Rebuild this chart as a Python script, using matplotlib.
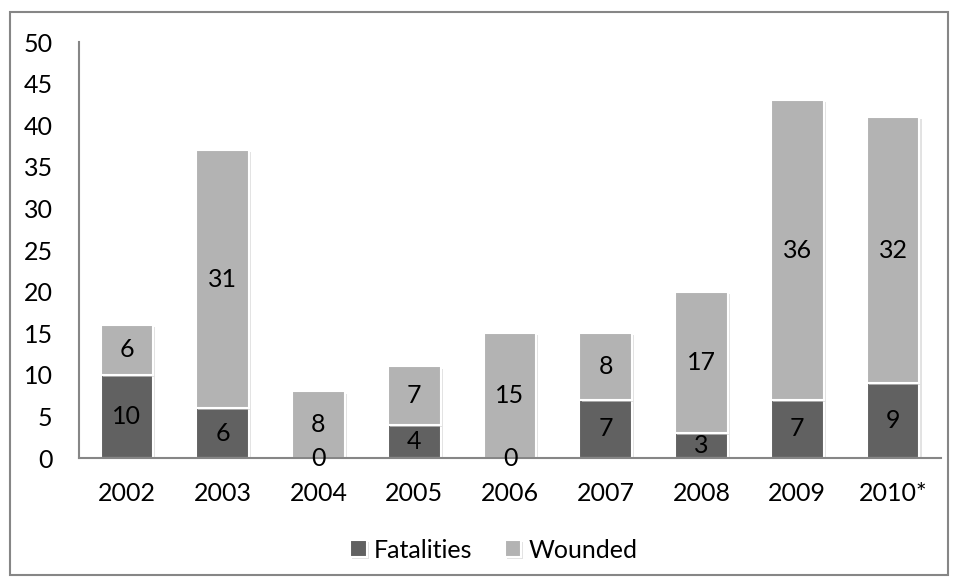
import matplotlib
matplotlib.use("Agg")
import matplotlib.pyplot as plt
from matplotlib.patches import Rectangle
import matplotlib.patheffects as pe

years = ["2002", "2003", "2004", "2005", "2006", "2007", "2008", "2009", "2010*"]
fatalities = [10, 6, 0, 4, 0, 7, 3, 7, 9]
wounded = [6, 31, 8, 7, 15, 8, 17, 36, 32]

plt.rcParams['font.family'] = ['Lato', 'DejaVu Sans']
FS = 18

W, H = 959, 583
fig = plt.figure(figsize=(W / 100, H / 100), dpi=100)
ax = fig.add_axes([79 / W, (H - 458) / H, (941 - 79) / W, (458 - 42) / H])

dark = "#616161"
light = "#b3b3b3"
x = list(range(len(years)))
shadow = [pe.SimplePatchShadow(offset=(1.5, -1.5), shadow_rgbFace="#d0d0d0", alpha=0.6), pe.Normal()]
b1 = ax.bar(x, fatalities, width=0.55, color=dark, edgecolor="white", linewidth=1.5, label="Fatalities")
b2 = ax.bar(x, wounded, width=0.55, bottom=fatalities, color=light, edgecolor="white", linewidth=1.5, label="Wounded")
for p in list(b1) + list(b2):
    p.set_path_effects(shadow)

for i in x:
    ax.text(i, fatalities[i] / 2, str(fatalities[i]), ha="center", va="center", fontsize=FS, color="black")
    ax.text(i, fatalities[i] + wounded[i] / 2, str(wounded[i]), ha="center", va="center", fontsize=FS, color="black")

ax.set_xlim(-0.5, len(years) - 0.5)
ax.set_ylim(0, 50)
ax.set_yticks(range(0, 51, 5))
ax.set_xticks(x)
ax.set_xticklabels(years)
ax.tick_params(axis="both", length=0, labelsize=FS)
ax.tick_params(axis="y", pad=19)
ax.tick_params(axis="x", pad=17)
for s in ["top", "right"]:
    ax.spines[s].set_visible(False)
for s in ["left", "bottom"]:
    ax.spines[s].set_color("#868686")
    ax.spines[s].set_linewidth(1.5)

leg = fig.legend(handles=[b1, b2], labels=["Fatalities", "Wounded"], loc="center",
                 bbox_to_anchor=(494 / W, 1 - 550 / H), ncol=2, frameon=False, fontsize=FS,
                 handlelength=0.65, handleheight=0.65, handletextpad=0.3, columnspacing=1.3)

fig.patches.append(Rectangle((10 / W, 1 - 575 / H), (948 - 10) / W, (575 - 12) / H,
                             transform=fig.transFigure, fill=False, edgecolor="#868686", linewidth=1.5))

fig.savefig("out.png", dpi=100)
